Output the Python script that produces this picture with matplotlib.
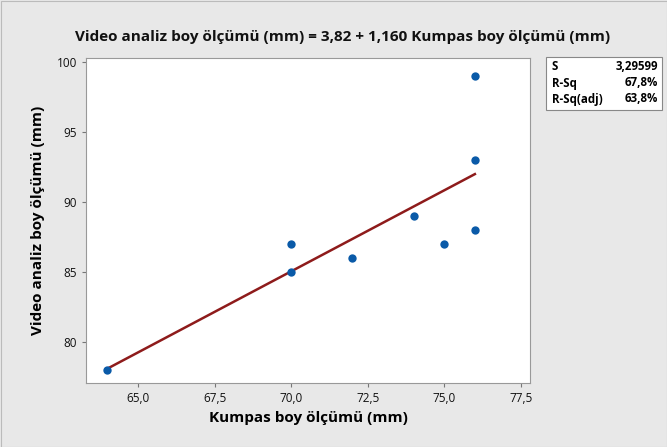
import matplotlib.pyplot as plt
import numpy as np
from matplotlib.patches import Rectangle
from matplotlib.ticker import FuncFormatter

plt.rcParams["font.family"] = ["Open Sans", "DejaVu Sans"]

# data
kumpas = [64, 70, 70, 72, 74, 75, 76, 76, 76]
video = [78, 87, 85, 86, 89, 87, 99, 93, 88]

x_ticks = [65.0, 67.5, 70.0, 72.5, 75.0, 77.5]
y_ticks = [80, 85, 90, 95, 100]

stat_names = ["S", "R-Sq", "R-Sq(adj)"]
stat_values = ["3,29599", "67,8%", "63,8%"]

bg = "#e8e8e8"
dot_color = "#0a5aa8"
line_color = "#8e1b1b"

W, H = 667, 447
fig = plt.figure(figsize=(W / 100, H / 100), dpi=100, facecolor=bg)
ax = fig.add_axes([86 / W, 1 - 383 / H, (530 - 86) / W, (383 - 58) / H])

slope, intercept = np.polyfit(kumpas, video, 1)
xs = np.linspace(min(kumpas), max(kumpas), 50)
ax.plot(xs, intercept + slope * xs, color=line_color, lw=1.8, zorder=2)
ax.scatter(kumpas, video, s=36, color=dot_color, zorder=3, linewidths=0)

ax.set_xlim(63.3, 77.8)
ax.set_ylim(77.05, 100.3)
ax.set_xticks(x_ticks)
ax.set_yticks(y_ticks)
ax.xaxis.set_major_formatter(FuncFormatter(lambda v, p: f"{v:.1f}".replace(".", ",")))
ax.tick_params(labelsize=8.5, length=3, color="#777777", labelcolor="#111111")
for sp in ax.spines.values():
    sp.set_color("#999999")
    sp.set_linewidth(0.8)

ax.set_xlabel("Kumpas boy ölçümü (mm)", fontsize=11, fontweight="bold", labelpad=4)
ax.set_ylabel("Video analiz boy ölçümü (mm)", fontsize=11, fontweight="bold", labelpad=8)
fig.text(0.514, 1 - 37 / H, "Video analiz boy ölçümü (mm) = 3,82 + 1,160 Kumpas boy ölçümü (mm)",
         ha="center", va="center", fontsize=11, fontweight="bold", color="#111111")

# stats box
fig.patches.append(Rectangle((546 / W, 1 - 110 / H), (662 - 546) / W, (110 - 57) / H,
                             transform=fig.transFigure, facecolor="white",
                             edgecolor="#888888", lw=0.8))
for i, (name, val) in enumerate(zip(stat_names, stat_values)):
    yy = 1 - (67 + i * 16) / H
    fig.text(552 / W, yy, name, ha="left", va="center", fontsize=8.3, fontweight="bold")
    fig.text(658 / W, yy, val, ha="right", va="center", fontsize=8.3, fontweight="bold")

fig.patches.append(Rectangle((0.5 / W, 0.5 / H), (W - 1) / W, (H - 1) / H,
                             transform=fig.transFigure, facecolor="none",
                             edgecolor="#bbbbbb", lw=0.8))

fig.savefig("out.png", dpi=100, facecolor=bg)
